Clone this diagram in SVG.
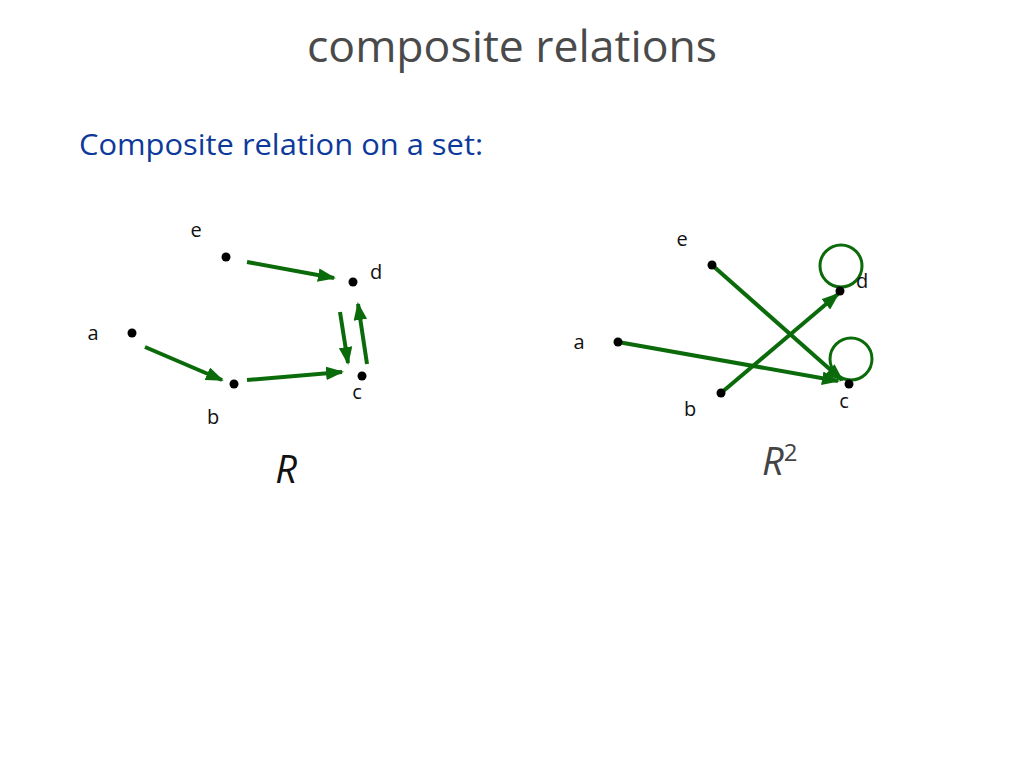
<svg xmlns="http://www.w3.org/2000/svg" width="1024" height="768" viewBox="0 0 1024 768">
<style>
.bg{fill:#ffffff}
.title{font-family:"Open Sans","Liberation Sans",sans-serif;font-size:44px;fill:#4a4a4a}
.sub{font-family:"Open Sans","Liberation Sans",sans-serif;font-size:29px;fill:#0d3a9a}
.lbl{font-family:"Open Sans","Liberation Sans",sans-serif;font-size:20px;fill:#111}
.big{font-family:"Open Sans","Liberation Sans",sans-serif;font-size:38px;font-style:italic;fill:#111}
.big2{font-family:"Open Sans","Liberation Sans",sans-serif;font-size:38px;font-style:italic;fill:#444}
.dot{fill:#000}
.edge{stroke:#0b6b0b;stroke-width:4;fill:none}
.loop{stroke:#0b6b0b;stroke-width:3;fill:none}
</style>
<defs>
<marker id="ah" markerWidth="4.5" markerHeight="3.4" refX="4" refY="1.7" orient="auto" markerUnits="strokeWidth">
<path d="M0,0 L4.5,1.7 L0,3.4 Z" fill="#0b6b0b"/>
</marker>
</defs>
<rect class="bg" x="0" y="0" width="1024" height="768"/>
<text class="title" x="512" y="62" text-anchor="middle" textLength="410" lengthAdjust="spacingAndGlyphs">composite relations</text>
<text class="sub" x="79" y="155" textLength="404" lengthAdjust="spacingAndGlyphs">Composite relation on a set:</text>

<g id="connectors">
<line class="edge" x1="247" y1="262" x2="334" y2="278" marker-end="url(#ah)"/>
<line class="edge" x1="145" y1="347" x2="222" y2="380" marker-end="url(#ah)"/>
<line class="edge" x1="247" y1="380" x2="342" y2="372" marker-end="url(#ah)"/>
<line class="edge" x1="340" y1="312" x2="348" y2="363" marker-end="url(#ah)"/>
<line class="edge" x1="367" y1="364" x2="358" y2="304" marker-end="url(#ah)"/>
<line class="edge" x1="712" y1="265" x2="842" y2="380" marker-end="url(#ah)"/>
<line class="edge" x1="618" y1="342" x2="838" y2="381" marker-end="url(#ah)"/>
<line class="edge" x1="721" y1="393" x2="838" y2="294" marker-end="url(#ah)"/>
<circle class="loop" cx="841" cy="266" r="21"/>
<circle class="loop" cx="851" cy="359" r="21"/>
</g>

<g id="R">
<g id="R-e"><circle class="dot" cx="226" cy="257" r="4.5"/><text class="lbl" x="196" y="237" text-anchor="middle">e</text></g>
<g id="R-d"><circle class="dot" cx="353" cy="282" r="4.5"/><text class="lbl" x="376" y="279" text-anchor="middle">d</text></g>
<g id="R-a"><circle class="dot" cx="132" cy="333" r="4.5"/><text class="lbl" x="93" y="340" text-anchor="middle">a</text></g>
<g id="R-b"><circle class="dot" cx="234" cy="384" r="4.5"/><text class="lbl" x="213" y="424" text-anchor="middle">b</text></g>
<g id="R-c"><circle class="dot" cx="362" cy="376" r="4.5"/><text class="lbl" x="357" y="399" text-anchor="middle">c</text></g>
<text class="big" x="286" y="483" text-anchor="middle">R</text>
</g>

<g id="R2">
<g id="R2-e"><circle class="dot" cx="712" cy="265" r="4.5"/><text class="lbl" x="682" y="246" text-anchor="middle">e</text></g>
<g id="R2-d"><circle class="dot" cx="840" cy="291" r="4.5"/><text class="lbl" x="862" y="288" text-anchor="middle">d</text></g>
<g id="R2-a"><circle class="dot" cx="618" cy="342" r="4.5"/><text class="lbl" x="579" y="349" text-anchor="middle">a</text></g>
<g id="R2-b"><circle class="dot" cx="721" cy="393" r="4.5"/><text class="lbl" x="690" y="416" text-anchor="middle">b</text></g>
<g id="R2-c"><circle class="dot" cx="849" cy="384" r="4.5"/><text class="lbl" x="844" y="408" text-anchor="middle">c</text></g>
<text class="big2" x="762" y="475">R<tspan font-size="24" dy="-14" font-style="normal">2</tspan></text>
</g>
</svg>
